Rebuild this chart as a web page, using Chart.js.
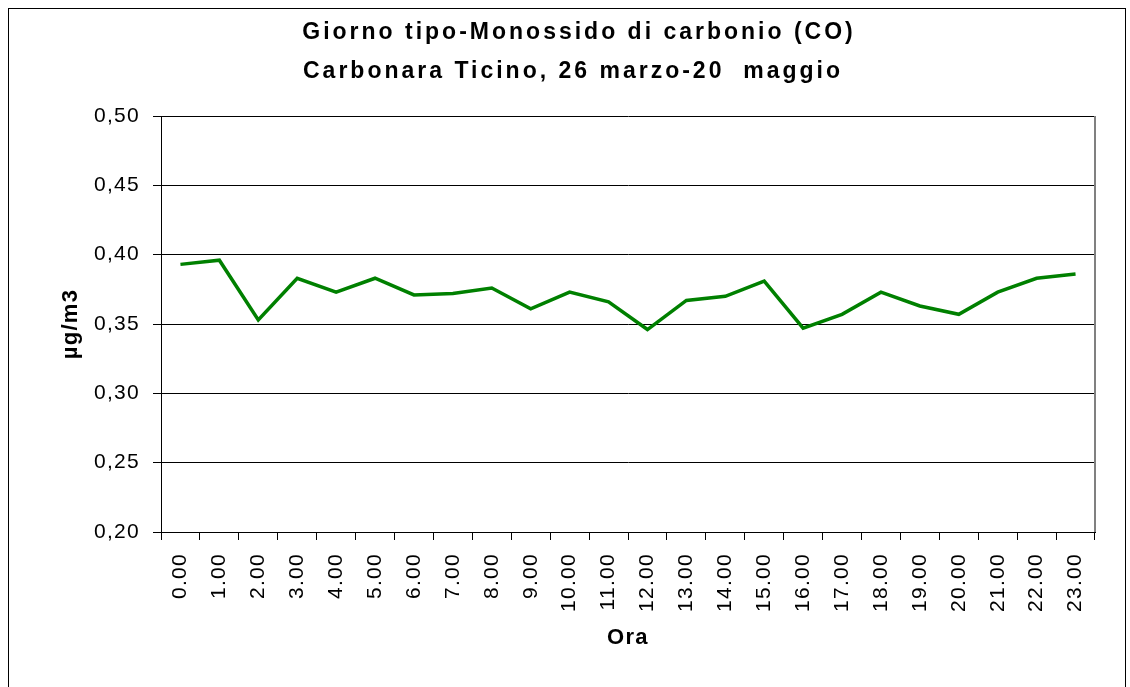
<!DOCTYPE html>
<html>
<head>
<meta charset="utf-8">
<script src="https://cdn.jsdelivr.net/npm/chart.js@4/dist/chart.umd.min.js"></script>
<style>
  html, body { margin: 0; padding: 0; background: #ffffff; }
  #c { display: block; }
</style>
</head>
<body>
<canvas id="c" width="1130" height="687"></canvas>
<script>
const titleLines = ["Giorno tipo-Monossido di carbonio (CO)", "Carbonara Ticino, 26 marzo-20  maggio"];
const hours = ["0.00","1.00","2.00","3.00","4.00","5.00","6.00","7.00","8.00","9.00","10.00","11.00",
               "12.00","13.00","14.00","15.00","16.00","17.00","18.00","19.00","20.00","21.00","22.00","23.00"];
const coValues = [0.393, 0.396, 0.353, 0.383, 0.373, 0.383, 0.371, 0.372, 0.376, 0.361, 0.373, 0.366,
                  0.346, 0.367, 0.370, 0.381, 0.347, 0.357, 0.373, 0.363, 0.357, 0.373, 0.383, 0.386];
const yMin = 0.20, yMax = 0.50, yStep = 0.05;
const xTitle = "Ora";
const yTitle = "µg/m3";

const FONT = "'Liberation Sans', Arial, sans-serif";

const framePlugin = {
  id: 'frame',
  beforeUpdate(chart) { chart.ctx.letterSpacing = '1.3px'; },
  beforeLayout(chart) { chart.ctx.letterSpacing = '1.3px'; },
  beforeDraw(chart) {
    const ctx = chart.ctx;
    ctx.save();
    ctx.fillStyle = '#ffffff';
    ctx.fillRect(0, 0, chart.width, chart.height);
    ctx.restore();
    ctx.letterSpacing = '1.3px';
  },
  afterDraw(chart) {
    const ctx = chart.ctx;
    const a = chart.chartArea;
    ctx.save();
    // right border of plot area
    ctx.strokeStyle = '#808080';
    ctx.lineWidth = 2;
    ctx.beginPath();
    ctx.moveTo(a.right, a.top);
    ctx.lineTo(a.right, a.bottom);
    ctx.stroke();
    // outer chart border
    ctx.strokeStyle = '#000000';
    ctx.lineWidth = 1;
    ctx.strokeRect(8.5, 8.5, 1117, 700);
    // title
    ctx.fillStyle = '#000000';
    ctx.font = "bold 23px " + FONT;
    ctx.letterSpacing = '3.0px';
    ctx.textAlign = 'center';
    ctx.textBaseline = 'alphabetic';
    ctx.fillText(titleLines[0], 579, 39);
    ctx.fillText(titleLines[1], 573, 78);
    ctx.restore();
  }
};

new Chart(document.getElementById('c'), {
  type: 'line',
  data: {
    labels: hours,
    datasets: [{
      data: coValues,
      borderColor: '#008000',
      borderWidth: 3.5,
      pointRadius: 0,
      pointHoverRadius: 0,
      tension: 0,
      fill: false
    }]
  },
  options: {
    responsive: false,
    animation: false,
    events: [],
    layout: { padding: { top: 116, right: 35, bottom: 0, left: 0 } },
    plugins: {
      legend: { display: false },
      title: { display: false },
      tooltip: { enabled: false }
    },
    scales: {
      x: {
        type: 'category',
        offset: true,
        afterFit(scale) { scale.height = 155; },
        grid: {
          display: true,
          drawOnChartArea: false,
          drawTicks: true,
          tickLength: 8,
          offset: true,
          color: '#000000',
          tickColor: '#000000'
        },
        border: { display: true, color: '#000000', width: 1 },
        ticks: {
          autoSkip: false,
          minRotation: 90,
          maxRotation: 90,
          padding: 13,
          color: '#000000',
          font: { family: FONT, size: 21 }
        },
        title: {
          display: true,
          text: xTitle,
          color: '#000000',
          font: { family: FONT, size: 22, weight: 'bold' },
          padding: { top: 0, bottom: 36 }
        }
      },
      y: {
        min: yMin,
        max: yMax,
        afterFit(scale) { scale.width = 161; },
        grid: {
          display: true,
          drawOnChartArea: true,
          drawTicks: true,
          tickLength: 8,
          color: '#000000',
          tickColor: '#000000',
          lineWidth: 1
        },
        border: { display: true, color: '#000000', width: 1 },
        ticks: {
          stepSize: yStep,
          padding: 13,
          color: '#000000',
          font: { family: FONT, size: 21 },
          callback: (v) => v.toFixed(2).replace('.', ',')
        },
        title: {
          display: true,
          text: yTitle,
          color: '#000000',
          font: { family: FONT, size: 22, weight: 'bold' },
          padding: { top: 58, bottom: 0 }
        }
      }
    }
  },
  plugins: [framePlugin]
});
</script>
</body>
</html>
